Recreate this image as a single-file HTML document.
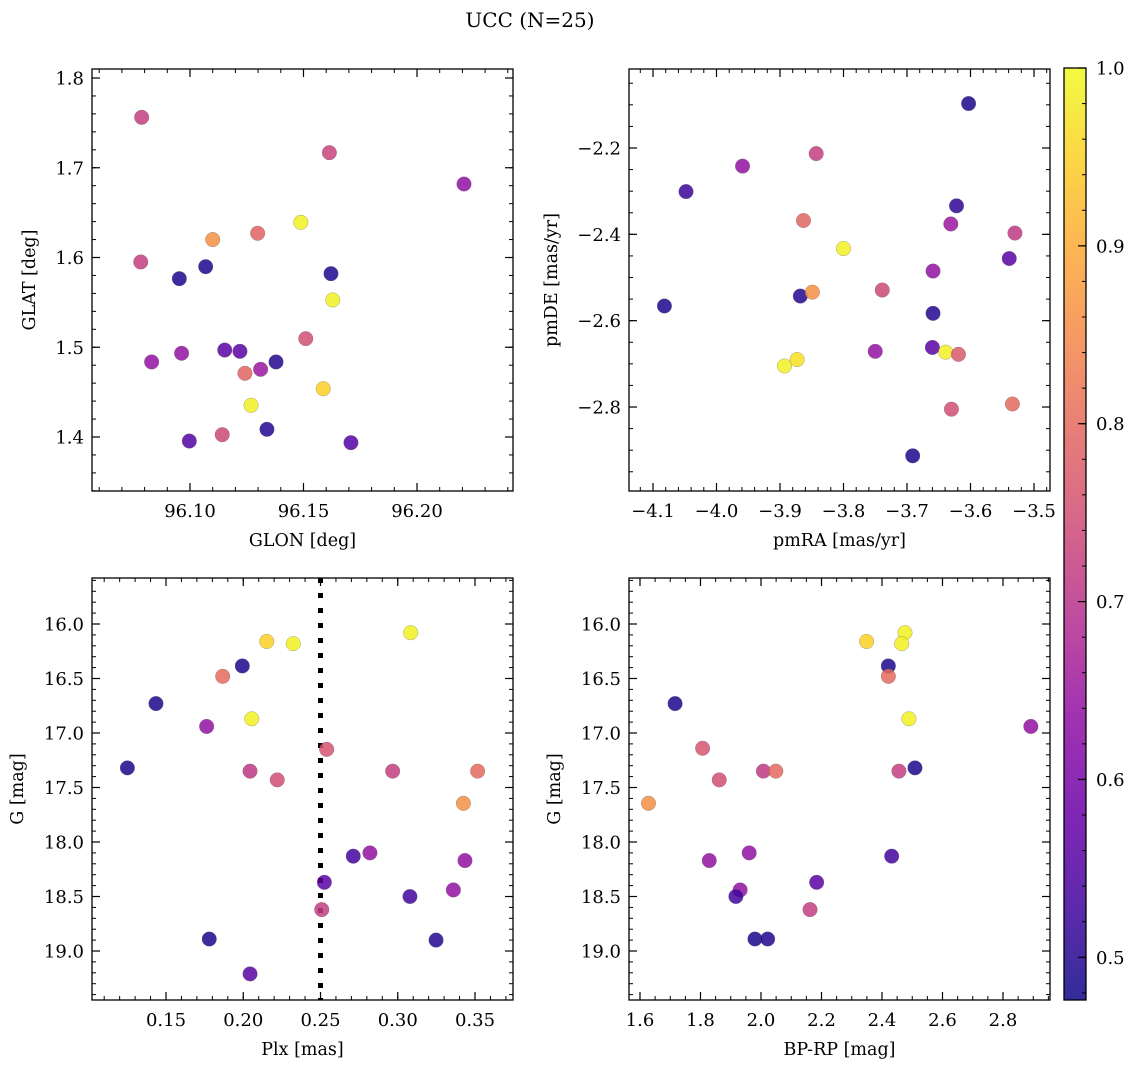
<!DOCTYPE html>
<html><head><meta charset="utf-8"><style>
html,body{margin:0;padding:0;background:#fff;}
svg{display:block;font-family:"DejaVu Serif","Liberation Serif",serif;}
</style></head><body>
<svg id="fig" width="1136" height="1068" viewBox="0 0 1136 1068" xmlns="http://www.w3.org/2000/svg">
<defs>
<linearGradient id="plasma" x1="0" y1="1" x2="0" y2="0"></linearGradient>
</defs>
<text x="530" y="27" font-size="20" text-anchor="middle">UCC (N=25)</text>
</svg>
<script>
// ---- data ----
const glon = [96.0787,96.1614,96.2207,96.1488,96.1298,96.110,96.0783,96.1069,96.0953,96.1621,96.1629,96.151,96.0831,96.0963,96.1153,96.122,96.1379,96.1242,96.1311,96.1587,96.1269,96.1339,96.1142,96.0997,96.1709];
const glat = [1.7562,1.7168,1.6819,1.6392,1.627,1.620,1.595,1.5898,1.5764,1.582,1.5527,1.5096,1.4836,1.4933,1.4969,1.4955,1.4836,1.471,1.4754,1.4538,1.4353,1.4086,1.4026,1.3955,1.3937];
const prob1 = [0.72,0.73,0.64,0.99,0.79,0.86,0.72,0.49,0.49,0.49,0.99,0.75,0.64,0.64,0.56,0.56,0.50,0.79,0.65,0.95,0.99,0.50,0.74,0.55,0.55];

const pmra = [-4.082,-4.048,-3.959,-3.843,-3.603,-3.863,-3.800,-3.622,-3.631,-3.530,-3.539,-3.659,-3.868,-3.849,-3.739,-3.659,-3.750,-3.660,-3.639,-3.619,-3.893,-3.873,-3.630,-3.534,-3.691];
const pmde = [-2.566,-2.301,-2.242,-2.213,-2.097,-2.368,-2.433,-2.334,-2.376,-2.397,-2.456,-2.485,-2.543,-2.534,-2.529,-2.583,-2.671,-2.662,-2.673,-2.678,-2.705,-2.690,-2.805,-2.793,-2.913];
const prob2 = [0.49,0.52,0.64,0.72,0.49,0.79,0.99,0.51,0.65,0.71,0.56,0.64,0.50,0.86,0.74,0.50,0.64,0.56,0.99,0.77,0.99,0.97,0.75,0.80,0.49];

const plx = [0.3084,0.2152,0.2324,0.1994,0.1867,0.1435,0.2055,0.1763,0.254,0.125,0.2044,0.2967,0.3517,0.222,0.3425,0.2712,0.282,0.3435,0.2525,0.336,0.3079,0.2508,0.178,0.3248,0.2044];
const gmag3 = [16.08,16.16,16.18,16.385,16.48,16.73,16.87,16.94,17.15,17.32,17.35,17.35,17.35,17.43,17.645,18.13,18.10,18.17,18.37,18.44,18.50,18.62,18.89,18.90,19.21];
const prob3 = [0.99,0.95,0.99,0.49,0.80,0.49,0.99,0.64,0.76,0.49,0.71,0.72,0.80,0.75,0.86,0.53,0.64,0.64,0.56,0.64,0.53,0.72,0.49,0.50,0.56];

const bprp = [2.476,2.349,2.465,2.421,2.421,1.716,2.489,2.892,1.807,2.509,2.008,2.456,2.049,1.862,1.628,2.432,1.961,1.829,2.184,1.931,1.917,2.162,1.98,2.022];
const gmag4 = [16.08,16.16,16.18,16.385,16.48,16.73,16.87,16.94,17.14,17.32,17.35,17.35,17.35,17.43,17.645,18.13,18.10,18.17,18.37,18.44,18.50,18.62,18.89,18.89];
const prob4 = [0.99,0.95,0.99,0.49,0.80,0.49,0.99,0.64,0.76,0.49,0.71,0.72,0.80,0.75,0.86,0.53,0.64,0.64,0.56,0.64,0.53,0.72,0.49,0.50];

const cbTicks = [0.5,0.6,0.7,0.8,0.9,1.0];
const plxLine = 0.25;
// ---- end data ----

const NS = "http://www.w3.org/2000/svg";
const svg = document.getElementById('fig');
const VMIN = 0.476, VMAX = 1.0;
const TICKFS = 18, LABFS = 17.5;
const stops = [[0,13,8,135],[0.1,65,4,157],[0.2,106,0,168],[0.3,143,13,164],[0.4,177,42,144],[0.5,204,71,120],[0.6,225,100,98],[0.7,242,132,75],[0.8,252,166,54],[0.9,252,206,37],[1,240,249,33]];
function plasma(t){
  t=Math.max(0,Math.min(1,t));
  for(let i=1;i<stops.length;i++){
    if(t<=stops[i][0]){const a=stops[i-1],b=stops[i];const f=(t-a[0])/(b[0]-a[0]);
      return `rgb(${Math.round(a[1]+f*(b[1]-a[1]))},${Math.round(a[2]+f*(b[2]-a[2]))},${Math.round(a[3]+f*(b[3]-a[3]))})`;}
  }
  return 'rgb(240,249,33)';
}
const grad = document.getElementById('plasma');
for(let i=0;i<=20;i++){const s=document.createElementNS(NS,'stop');s.setAttribute('offset',(i/20));s.setAttribute('stop-color',plasma(i/20));s.setAttribute('stop-opacity','0.85');grad.appendChild(s);}

function el(tag, attrs, parent){const e=document.createElementNS(NS,tag);for(const k in attrs)e.setAttribute(k,attrs[k]);(parent||svg).appendChild(e);return e;}
function fmt(v,d){let s=v.toFixed(d);if(v<0)s='\u2212'+s.slice(1);return s;}

function panel(cfg){
  const g=el('g',{});
  
  
  const {L,R,T,B}=cfg;
  const sx=v=>L+(v-cfg.x0)/(cfg.x1-cfg.x0)*(R-L);
  const sy=cfg.yinv? (v=>T+(v-cfg.y0)/(cfg.y1-cfg.y0)*(B-T)) : (v=>B-(v-cfg.y0)/(cfg.y1-cfg.y0)*(B-T));
  const eps=1e-9;
  for(let v=Math.ceil(cfg.x0/cfg.xmin-eps)*cfg.xmin; v<=cfg.x1+eps; v+=cfg.xmin){const x=sx(v);
    el('line',{x1:x,x2:x,y1:B,y2:B-4,stroke:'#000','stroke-width':1},g);el('line',{x1:x,x2:x,y1:T,y2:T+4,stroke:'#000','stroke-width':1},g);}
  for(let v=Math.ceil(Math.min(cfg.y0,cfg.y1)/cfg.ymin-eps)*cfg.ymin; v<=Math.max(cfg.y0,cfg.y1)+eps; v+=cfg.ymin){const y=sy(v);
    el('line',{x1:L,x2:L+4,y1:y,y2:y,stroke:'#000','stroke-width':1},g);el('line',{x1:R,x2:R-4,y1:y,y2:y,stroke:'#000','stroke-width':1},g);}
  cfg.xt.forEach(v=>{const x=sx(v);
    el('line',{x1:x,x2:x,y1:B,y2:B-8,stroke:'#000','stroke-width':1.2},g);el('line',{x1:x,x2:x,y1:T,y2:T+8,stroke:'#000','stroke-width':1.2},g);
    const t=el('text',{x:x,y:B+26,'font-size':TICKFS,'text-anchor':'middle'},g);t.textContent=fmt(v,cfg.xd);
    
    });
  cfg.yt.forEach(v=>{const y=sy(v);
    el('line',{x1:L,x2:L+8,y1:y,y2:y,stroke:'#000','stroke-width':1.2},g);el('line',{x1:R,x2:R-8,y1:y,y2:y,stroke:'#000','stroke-width':1.2},g);
    const t=el('text',{x:L-8,y:y+6.5,'font-size':TICKFS,'text-anchor':'end'},g);t.textContent=fmt(v,cfg.yd);
    
    });
  if(cfg.vline!==undefined){const x=sx(cfg.vline);
    const ln=el('line',{x1:x,x2:x,y1:T,y2:B,stroke:'#000','stroke-width':5,'stroke-dasharray':'5,10'},g);
    
    }
  cfg.xs.forEach((xv,i)=>{
    const c=el('circle',{cx:sx(xv),cy:sy(cfg.ys[i]),r:7.3,fill:plasma((cfg.ps[i]-VMIN)/(VMAX-VMIN)),'fill-opacity':0.85,stroke:'#666','stroke-width':0.4,'stroke-opacity':0.7},g);
    
    
  });
  el('rect',{x:L,y:T,width:R-L,height:B-T,fill:'none',stroke:'#000','stroke-width':1.3},g);
  const xl=el('text',{x:(L+R)/2,y:B+55,'font-size':LABFS,'text-anchor':'middle'},g);xl.textContent=cfg.xlab;
  
  
  const yl=el('text',{x:cfg.ylx,y:(T+B)/2,'font-size':LABFS,'text-anchor':'middle',transform:`rotate(-90 ${cfg.ylx} ${(T+B)/2})`},g);yl.textContent=cfg.ylab;
  
  
}

panel({name:'glon-glat-panel',L:92,R:513,T:69,B:491,x0:96.1-98/2270,x1:96.2+96/2270,y0:1.8-(491-78)/897.5,y1:1.8+9/897.5,
  xt:[96.10,96.15,96.20],xd:2,yt:[1.4,1.5,1.6,1.7,1.8],yd:1,xmin:0.01,ymin:0.02,xs:glon,ys:glat,ps:prob1,xlab:'GLON [deg]',ylab:'GLAT [deg]',ylx:35});
panel({name:'pm-panel',L:629,R:1050,T:69,B:491,x0:-4.1-24/635,x1:-3.5+16/635,y0:-2.2-(491-148)/431.7,y1:-2.2+79/431.7,
  xt:[-4.1,-4.0,-3.9,-3.8,-3.7,-3.6,-3.5],xd:1,yt:[-2.8,-2.6,-2.4,-2.2],yd:1,xmin:0.02,ymin:0.05,xs:pmra,ys:pmde,ps:prob2,xlab:'pmRA [mas/yr]',ylab:'pmDE [mas/yr]',ylx:557});
panel({name:'plx-g-panel',L:92,R:513,T:578,B:1000,x0:0.15-74/1545,x1:0.35+38/1545,y0:16-46/109,y1:19+49/109,yinv:true,
  xt:[0.15,0.20,0.25,0.30,0.35],xd:2,yt:[16,16.5,17,17.5,18,18.5,19],yd:1,xmin:0.01,ymin:0.1,xs:plx,ys:gmag3,ps:prob3,xlab:'Plx [mas]',ylab:'G [mag]',ylx:23,vline:plxLine});
panel({name:'color-g-panel',L:629,R:1050,T:578,B:1000,x0:1.6-11/302.5,x1:2.8+47/302.5,y0:16-46/109,y1:19+49/109,yinv:true,
  xt:[1.6,1.8,2.0,2.2,2.4,2.6,2.8],xd:1,yt:[16,16.5,17,17.5,18,18.5,19],yd:1,xmin:0.05,ymin:0.1,xs:bprp,ys:gmag4,ps:prob4,xlab:'BP-RP [mag]',ylab:'G [mag]',ylx:560});

// colorbar
const cb=el('g',{});


const CT=68,CB=1000,CL=1064,CR=1086;
const cy=v=>CB-(v-VMIN)/(VMAX-VMIN)*(CB-CT);
el('rect',{x:CL,y:CT,width:CR-CL,height:CB-CT,fill:'url(#plasma)'},cb);
for(let v=0.48;v<=1.0001;v+=0.02){el('line',{x1:CR,x2:CR-4,y1:cy(v),y2:cy(v),stroke:'#000','stroke-width':1},cb);}
cbTicks.forEach(v=>{const y=cy(v);el('line',{x1:CR,x2:CR-8,y1:y,y2:y,stroke:'#000','stroke-width':1.2},cb);
  const t=el('text',{x:CR+10,y:y+6.5,'font-size':TICKFS},cb);t.textContent=v.toFixed(1);
  
  });
el('rect',{x:CL,y:CT,width:CR-CL,height:CB-CT,fill:'none',stroke:'#000','stroke-width':1.3},cb);
</script>
</body></html>
